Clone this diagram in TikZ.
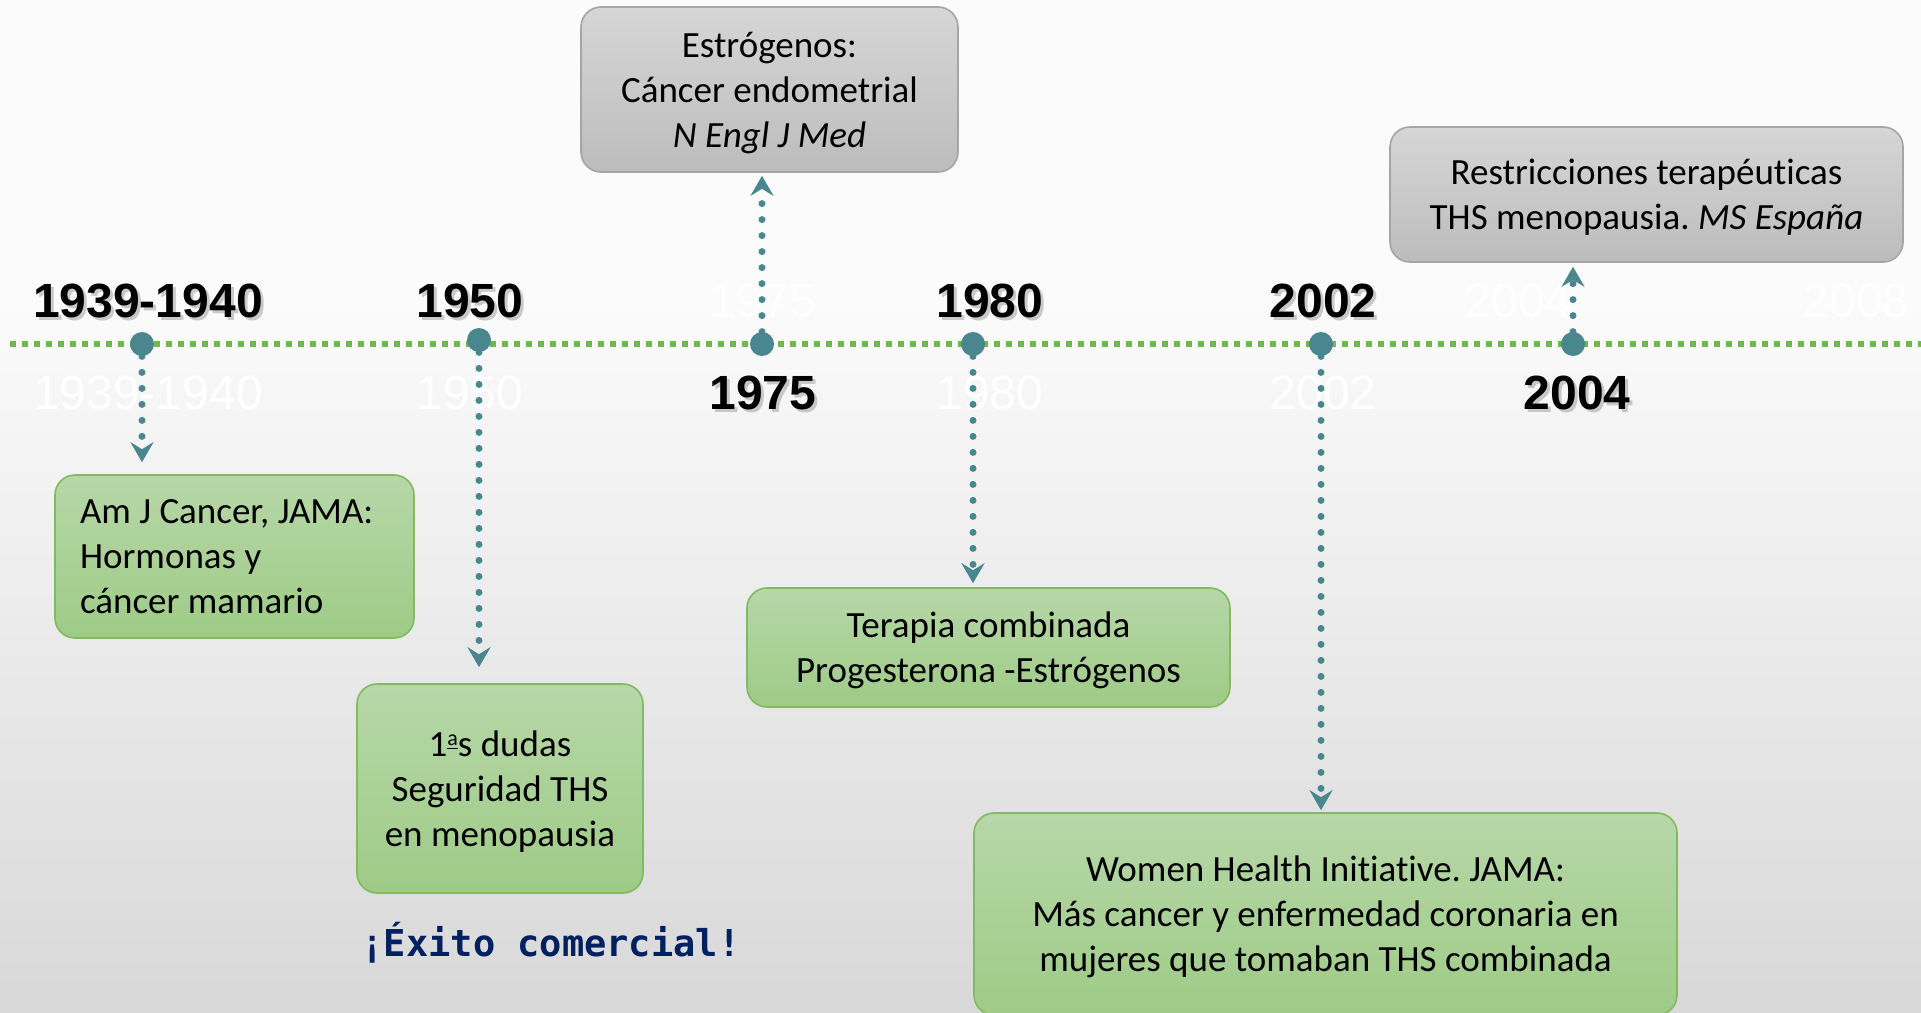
\documentclass[tikz,border=0pt]{standalone}
\usepackage{fontspec}
\usepackage{tikz}
\usetikzlibrary{arrows.meta,positioning}

\newfontfamily\bodyfont[Ligatures=NoCommon]{Carlito}
\newfontfamily\yearfont{Liberation Sans}
\newfontfamily\codefont{DejaVu Sans Mono}
\frenchspacing

\definecolor{dotteal}{RGB}{74,134,142}
\definecolor{linegreen}{RGB}{112,184,74}
\definecolor{greentop}{RGB}{183,215,168}
\definecolor{greenbot}{RGB}{158,203,134}
\definecolor{greenline}{RGB}{130,186,96}
\definecolor{greytop}{RGB}{214,214,214}
\definecolor{greybot}{RGB}{188,188,188}
\definecolor{greyline}{RGB}{165,165,165}
\definecolor{navy}{RGB}{0,32,96}
\definecolor{bgtop}{RGB}{251,251,251}
\definecolor{bgbot}{RGB}{216,216,216}

\begin{document}
\begin{tikzpicture}[x=0.5pt,y=-0.5pt,
    box/.style={rounded corners=10pt, line width=0.8pt, inner sep=0pt, align=center,
      font=\bodyfont\fontsize{18.5}{22.5}\selectfont},
    lowered/.style={text depth=0pt},
    greenbox/.style={box, draw=greenline, top color=greentop, bottom color=greenbot},
    greybox/.style={box, draw=greyline, top color=greytop, bottom color=greybot},
    year/.style={inner sep=0pt, font=\yearfont\bfseries\fontsize{24}{24}\selectfont},
    yearshadow/.style={year, text=black!40, opacity=0.5},
    ghost/.style={inner sep=0pt, text=white, font=\yearfont\fontsize{24}{24}\selectfont},
    tick/.style={circle, fill=dotteal, minimum size=12pt, inner sep=0pt},
    timeline/.style={linegreen, line width=2.6pt, dash pattern=on 3pt off 3pt},
    conn/.style={dotteal, line width=3.5pt, line cap=round, dash pattern=on 0pt off 8pt,
      -{Stealth[length=10pt,width=11.5pt,inset=3.5pt]}}]

    % background
    \fill[bgtop] (0,0) rectangle (1921,300);
    \shade[top color=bgtop, bottom color=bgbot] (0,300) rectangle (1921,1012);
    \useasboundingbox (0,0) rectangle (1921,1012);

    % time axis
    \coordinate (axl) at (10,344);
    \coordinate (axr) at (1921,344);
    \draw[timeline] (axl) -- (axr);

    % faint year marks
    \node[ghost] (g39) at (148,393){1939-1940};
    \node[ghost] (g50) at (470,393){1950};
    \node[ghost] (g75) at (763,301){1975};
    \node[ghost] (g80) at (990,393){1980};
    \node[ghost] (g02) at (1323,393){2002};
    \node[ghost] (g04) at (1518,301){2004};
    \node[ghost] (g08) at (1856,301){2008};

    % years
    \foreach \i/\x/\y/\t in {1/148/301/1939-1940, 2/470/301/1950, 3/763/393/1975,
        4/990/301/1980, 5/1323/301/2002, 6/1577/393/2004}
      \node[yearshadow] (ys\i) at (\x+3,\y+3){\t};
    \node[year] (y39) at (148,301){1939-1940};
    \node[year] (y50) at (470,301){1950};
    \node[year] (y75) at (763,393){1975};
    \node[year] (y80) at (990,301){1980};
    \node[year] (y02) at (1323,301){2002};
    \node[year] (y04) at (1577,393){2004};

    % events
    \node[greenbox, align=flush left, text width=154.5pt, inner xsep=12.5pt, minimum height=81.5pt]
      (b39) at (234.5,556.5){Am J Cancer, JAMA:\\Hormonas y\\cáncer mamario};
    \node[greenbox, lowered, minimum width=143pt, minimum height=104.5pt]
      (b50) at (500,788.5){1\raisebox{0.62ex}{\underline{\fontsize{11}{11}\selectfont a}}s dudas\\Seguridad THS\\en menopausia};
    \node[greybox, lowered, minimum width=188.5pt, minimum height=82.5pt]
      (b75) at (769.5,89.5){Estrógenos:\\Cáncer endometrial\\\textit{N Engl J Med}};
    \node[greenbox, lowered, minimum width=241.5pt, minimum height=59.5pt]
      (b80) at (988.5,647.5){Terapia combinada\\Progesterona -Estrógenos};
    \node[greenbox, lowered, minimum width=351.5pt, minimum height=101pt]
      (b02) at (1325.5,914){Women Health Initiative. JAMA:\\Más cancer y enfermedad coronaria en\\mujeres que tomaban THS combinada};
    \node[greybox, lowered, minimum width=256.5pt, minimum height=67.5pt]
      (b04) at (1646.5,194.5){Restricciones terapéuticas\\THS menopausia. \textit{MS España}};

    \node[inner sep=0pt, text=navy, font=\codefont\bfseries\fontsize{18.5}{18.5}\selectfont]
      (exito) at (551,943){¡Éxito comercial!};

    % ticks
    \node[tick] (d39) at (142,344){};
    \node[tick] (d50) at (479,340){};
    \node[tick] (d75) at (762,344){};
    \node[tick] (d80) at (973,344){};
    \node[tick] (d02) at (1321,344){};
    \node[tick] (d04) at (1573,344){};

    \path[conn]
      (d39) edge[shorten >=6pt] (d39 |- b39.north)
      (d50) edge[shorten >=8pt] (d50 |- b50.north)
      (d75) edge[shorten >=1.5pt] (d75 |- b75.south)
      (d80) edge[shorten >=2pt] (d80 |- b80.north)
      (d02) edge[shorten >=1pt] (d02 |- b02.north)
      (d04) edge[shorten >=2pt] (d04 |- b04.south)
    ;
\end{tikzpicture}
\end{document}
